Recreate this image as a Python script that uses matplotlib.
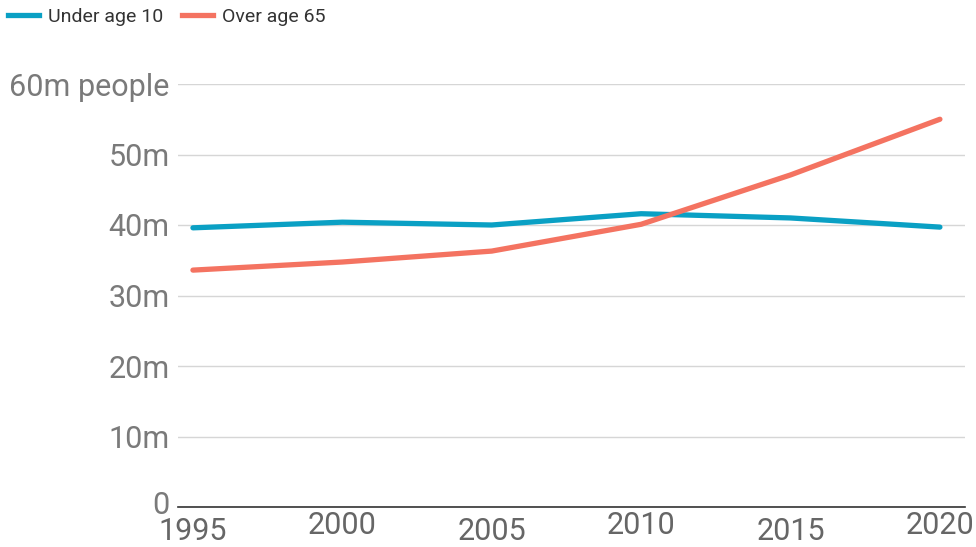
import matplotlib.pyplot as plt
from matplotlib.lines import Line2D
from matplotlib.transforms import ScaledTranslation

years = [1995, 2000, 2005, 2010, 2015, 2020]
under_10 = [39.6, 40.4, 40.0, 41.6, 41.0, 39.7]
over_65 = [33.6, 34.75, 36.3, 40.1, 47.1, 55.0]
y_ticks = [0, 10, 20, 30, 40, 50, 60]
y_labels = ["0", "10m", "20m", "30m", "40m", "50m", "60m people"]

teal = "#0aa0c4"
salmon = "#f47361"
gray = "#7a7a7a"

plt.rcParams["font.family"] = ["Roboto", "DejaVu Sans"]

fig = plt.figure(figsize=(9.76, 5.47), dpi=100)
ax = fig.add_axes([178 / 976, 1 - 507 / 547, (965 - 178) / 976, (507 - 84) / 547])

ax.plot(years, under_10, color=teal, lw=3.8, solid_capstyle="round", clip_on=False, zorder=3)
ax.plot(years, over_65, color=salmon, lw=3.8, solid_capstyle="round", clip_on=False, zorder=3)

ax.set_xlim(1994.5, 2020.84)
ax.set_ylim(0, 60)
ax.set_yticks(y_ticks)
ax.set_yticklabels(y_labels)
ax.tick_params(axis="y", length=0, pad=6, labelsize=22, labelcolor=gray)
# nudge the "0" label up so it sits clear of the 1995 label
zero = ax.yaxis.get_major_ticks()[0].label1
zero.set_transform(zero.get_transform() + ScaledTranslation(0, 4 / 100, fig.dpi_scale_trans))
ax.grid(axis="y", color="#d6d6d6", lw=1)
ax.set_axisbelow(True)
for s in ["top", "right", "left"]:
    ax.spines[s].set_visible(False)
ax.spines["bottom"].set_color("#333333")
ax.spines["bottom"].set_linewidth(1.2)
ax.spines["bottom"].set_zorder(4)

# staggered year labels under the axis
ax.set_xticks(years)
ax.set_xticklabels([])
ax.tick_params(axis="x", length=0)
for i, yr in enumerate(years):
    off = -18 if i % 2 == 0 else -13
    ax.annotate(str(yr), (yr, 0), xytext=(0, off), textcoords="offset points",
                ha="center", va="center", fontsize=22, color="#666666",
                annotation_clip=False)

handles = [Line2D([], [], color=teal, lw=3.8), Line2D([], [], color=salmon, lw=3.8)]
fig.legend(handles, ["Under age 10", "Over age 65"], loc="upper left",
           bbox_to_anchor=(0.0, 1.0), borderaxespad=0.1, borderpad=0.3,
           ncol=2, frameon=False, fontsize=14,
           handlelength=1.6, handletextpad=0.45, columnspacing=1.0,
           labelcolor="#333333")

fig.savefig("out.png", dpi=100)
